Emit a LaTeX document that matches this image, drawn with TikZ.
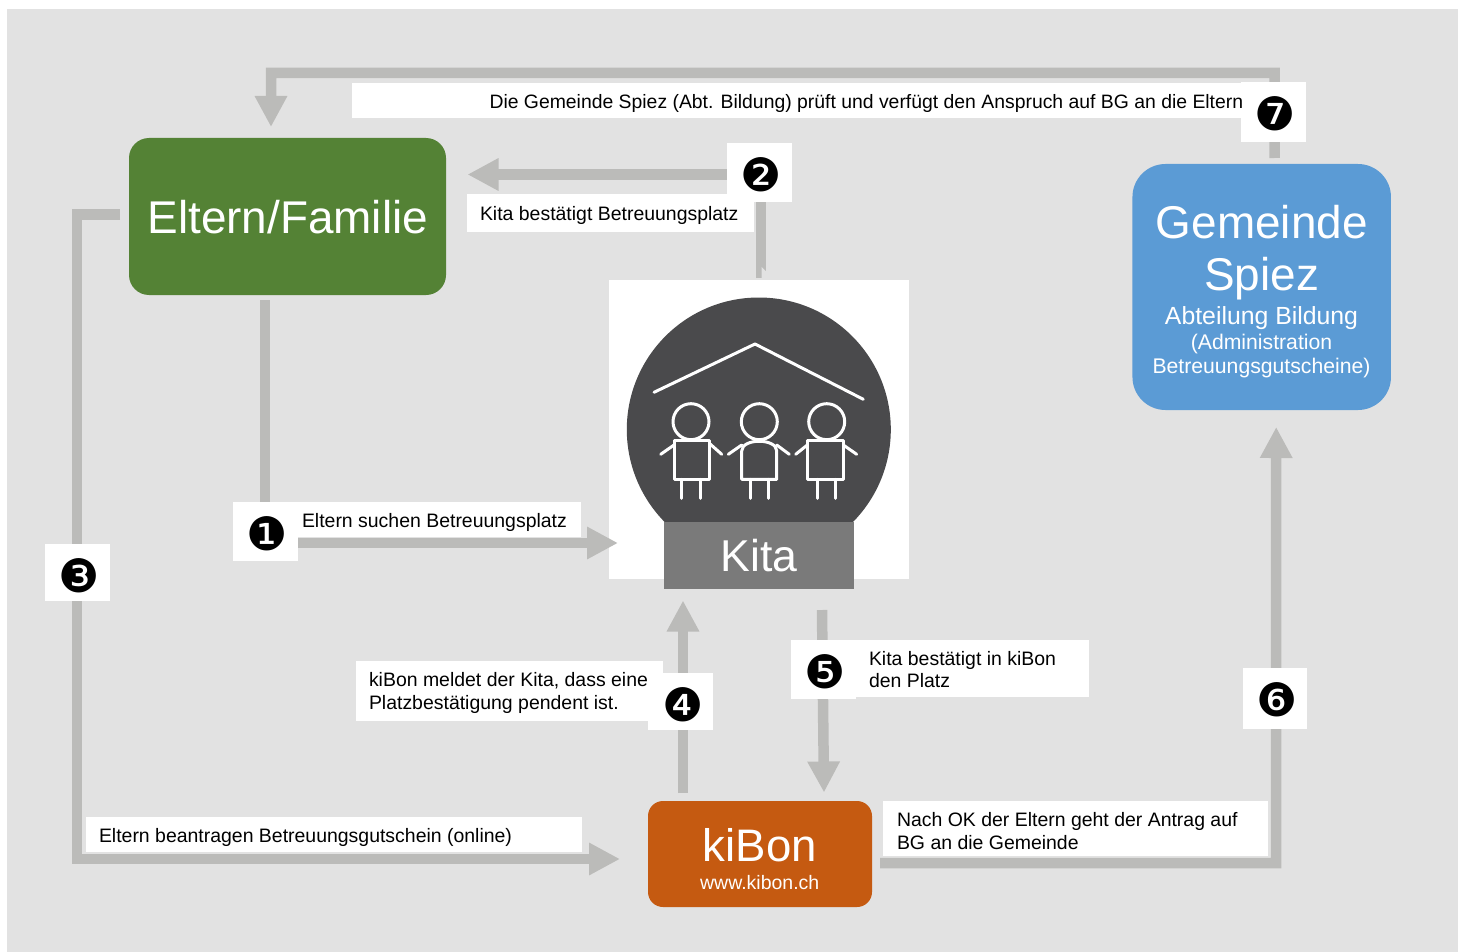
\documentclass[tikz,border=0pt]{standalone}
\usepackage{fontspec}
\setmainfont{Liberation Sans}
\newfontfamily\numfont{DejaVu Sans}
\usetikzlibrary{arrows.meta}
\pgfdeclarelayer{bgl}
\pgfdeclarelayer{conn}
\pgfsetlayers{bgl,conn,main}
\definecolor{pagegrey}{HTML}{E2E2E2}
\definecolor{flowgrey}{HTML}{BBBBB9}
\definecolor{eltgreen}{HTML}{548235}
\definecolor{gemblue}{HTML}{5B9BD5}
\definecolor{kibonor}{HTML}{C55A11}
\definecolor{kitadark}{HTML}{4A4A4C}
\definecolor{kitagrey}{HTML}{7A7A7A}
\newcommand{\fs}[1]{\fontsize{#1}{#1}\selectfont}
\newcommand{\whitebox}[5]{\node[plainbox,fill=white,minimum width={(#4-#2)*1pt},minimum height={(#5-#3)*1pt}] (#1) at ({(#2+#4)/2},{(#3+#5)/2}) {};}
\tikzset{
  x=1pt,y=-1pt,
  plainbox/.style={inner sep=0pt,outer sep=0pt,draw=none,rectangle},
  flow/.style={draw=flowgrey,line width=10.5pt,-{Triangle[length=31pt,width=30.5pt]}},
  lab/.style={anchor=base west,inner sep=0pt,outer sep=0pt,font=\fs{19.45},text=black},
  lablines/.style={lab,align=left,font=\fontsize{19.45}{23}\selectfont},
  numtext/.style={inner sep=0pt,outer sep=0pt,font=\numfont\fs{46},text=black},
  headtext/.style={anchor=base,inner sep=0pt,outer sep=0pt,text=white},
  icon/.style={draw=white,line width=3pt,line cap=round,line join=round},
}
\begin{document}
\begin{tikzpicture}
\useasboundingbox (0,0) rectangle (1458,952);
\begin{pgfonlayer}{bgl}
\fill[pagegrey] (7,9) rectangle (1458,952);
\node[plainbox,fill=white,minimum width=300pt,minimum height=299pt] (kita) at (759,429.5) {};
\end{pgfonlayer}
% main boxes
\node[plainbox,fill=eltgreen,rounded corners=20pt,minimum width=317pt,minimum height=157pt] (elt) at (287.5,216.5) {};
\node[headtext,font=\fs{45.9}] (elttext) at (287.8,233.5) {Eltern/Familie};
\node[plainbox,fill=gemblue,rounded corners=33pt,minimum width=258.5pt,minimum height=246pt] (gem) at (1261.7,287) {};
\node[headtext,font=\fs{45.9}] (gem1) at (1261.7,238) {Gemeinde};
\node[headtext,font=\fs{45.9}] (gem2) at (1261.7,290.5) {Spiez};
\node[headtext,font=\fs{24.8}] (gem3) at (1261.5,324.3) {Abteilung Bildung};
\node[headtext,font=\fs{21.2}] (gem4) at (1261.5,349.3) {(Administration};
\node[headtext,font=\fs{21.2}] (gem5) at (1261.5,373) {Betreuungsgutscheine)};
\node[plainbox,fill=kibonor,rounded corners=15pt,minimum width=224pt,minimum height=106pt] (kib) at (760,854) {};
\node[headtext,font=\fs{45.6}] (kib1) at (759.7,861.3) {kiBon};
\node[headtext,font=\fs{19.5}] (kib2) at (759.7,889) {www.kibon.ch};
% kita icon
\fill[kitadark] (758.8,429.5) circle[radius=132];
\draw[icon] (654,392.3) -- (755,344) -- (863.3,399.3);
\foreach \cx in {691,759.3,826.7}{\draw[icon] (\cx,421.7) circle[radius=18];}
\draw[icon] (674,440) rectangle (709.3,479.3);
\draw[icon] (741.7,479.3) -- (741.7,451) .. controls (741.7,438) and (776.7,438) .. (776.7,451) -- (776.7,479.3) -- cycle;
\draw[icon] (807.3,440) rectangle (843.3,479.3);
\draw[icon] (674,445) -- (660.7,454.3) (709.3,443.3) -- (721.7,454.3);
\draw[icon] (741.7,445) -- (728.3,454.3) (776.7,445) -- (789.3,454.3);
\draw[icon] (807.3,445) -- (795.7,454.3) (843.3,445) -- (856.7,454.3);
\foreach \lx in {681.7,700,750,768.3,817.3,835.7}{\draw[icon] (\lx,479.3) -- (\lx,498.3);}
\node[plainbox,fill=kitagrey,minimum width=190pt,minimum height=67pt] (kitabar) at (759,555.5) {};
\node[headtext,font=\fs{44.6}] (kitatext) at (759,571.7) {Kita};
% numbers
\whitebox{n1}{233}{502}{298}{561}
\node[numtext] (n1t) at (266.8,533.5) {❶};
\whitebox{n2}{727}{143}{792}{202}
\node[numtext] (n2t) at (760.8,174.5) {❷};
\whitebox{n3}{45}{544}{110}{601}
\node[numtext] (n3t) at (78.8,575.5) {❸};
\whitebox{n4}{648}{673}{713}{730}
\node[numtext] (n4t) at (682.8,704.5) {❹};
\whitebox{n5}{791}{640}{856}{699}
\node[numtext] (n5t) at (824.8,671.5) {❺};
\whitebox{n6}{1243}{668}{1307}{729}
\node[numtext] (n6t) at (1276.8,699.5) {❻};
\whitebox{n7}{1241}{82}{1306}{142}
\node[numtext] (n7t) at (1275.5,113.5) {❼};
% labels
\whitebox{l7}{352}{83}{1243}{118}
\node[lab,font=\fs{19.38}] (l7t) at (489.5,108.6) {Die Gemeinde Spiez (Abt. Bildung) prüft und verfügt den Anspruch auf BG an die Eltern};
\whitebox{l2}{467}{194}{754}{232}
\node[lab] (l2t) at (480,220) {Kita bestätigt Betreuungsplatz};
\whitebox{l1}{298}{502}{581}{537}
\node[lab] (l1t) at (302,527) {Eltern suchen Betreuungsplatz};
\whitebox{l4}{356}{661}{663}{721}
\node[lablines] (l4t) at (369,709) {kiBon meldet der Kita, dass eine\\Platzbestätigung pendent ist.};
\whitebox{l5}{856}{640}{1089}{697}
\node[lablines,font=\fontsize{19.45}{22}\selectfont] (l5t) at (869,687) {Kita bestätigt in kiBon\\den Platz};
\whitebox{l6}{883}{801}{1268}{856}
\node[lablines] (l6t) at (897,849) {Nach OK der Eltern geht der Antrag auf\\BG an die Gemeinde};
\whitebox{l3}{86}{817}{582}{852}
\node[lab] (l3t) at (99,842) {Eltern beantragen Betreuungsgutschein (online)};
% connectors
\begin{pgfonlayer}{conn}
\coordinate (c1) at (265,543);
\coordinate (c2) at (761,174.5);
\coordinate (c3a) at (77,214.5);
\coordinate (c3b) at (77,859);
\coordinate (c6) at (1276,863);
\coordinate (c7a) at (1274.5,73);
\coordinate (c7b) at (271,73);
\draw[flow] ([shift={(-22.5,5)}]elt.south) -- (c1) -- ([shift={(9,113.5)}]kita.west);
\draw[flow] ([shift={(2,-2)}]kita.north) -- (c2) -- ([shift={(21.5,-42)}]elt.east);
\draw[flow] ([shift={(-9,-2)}]elt.west) -- (c3a) -- (c3b) -- ([shift={(-28,5)}]kib.west);
\draw[flow] ([shift={(-77,-8)}]kib.north) -- ([shift={(-76,11.5)}]kitabar.south);
\draw[flow] ([shift={(63,21)}]kitabar.south) -- ([shift={(64,-8.5)}]kib.north);
\draw[flow] ([shift={(8,9)}]kib.east) -- (c6) -- ([shift={(14.5,17)}]gem.south);
\draw[flow] ([shift={(13,-6)}]gem.north) -- (c7a) -- (c7b) -- ([shift={(-16.5,-11)}]elt.north);
\fill[pagegrey] (761.7,278) -- (761.7,267) -- (766.6,272) -- (766.6,278) -- cycle;
\end{pgfonlayer}
\end{tikzpicture}
\end{document}
